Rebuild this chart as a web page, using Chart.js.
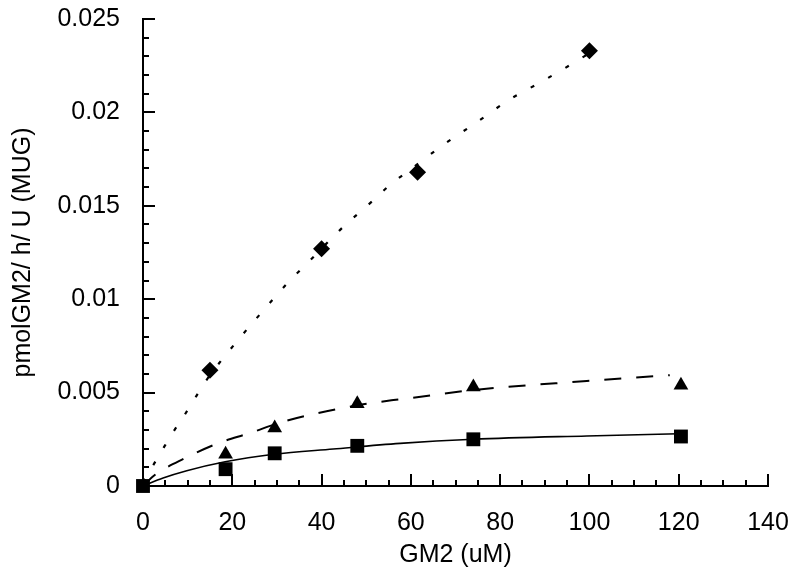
<!DOCTYPE html>
<html>
<head>
<meta charset="utf-8">
<script src="https://cdn.jsdelivr.net/npm/chart.js@4/dist/chart.umd.min.js"></script>
<style>
  html, body { margin: 0; padding: 0; background: #fff; }
  canvas { display: block; }
</style>
</head>
<body>
<canvas id="gm2Chart" width="800" height="576"></canvas>
<script>
/* GM2 hydrolysis vs substrate concentration */

const diamondX = [15, 40, 61.5, 100];
const diamondY = [0.0062, 0.0127, 0.0168, 0.0233];

const triangleX = [18.5, 29.5, 48, 74, 120.5];
const triangleY = [0.0017, 0.0031, 0.0044, 0.0053, 0.0054];

const squareX = [0, 18.5, 29.5, 48, 74, 120.5];
const squareY = [0, 0.0009, 0.00175, 0.00215, 0.0025, 0.00265];

// fitted curves
const dottedX = [0, 2, 4.5, 6.8, 9.3, 11.9, 14.3, 20.2, 26.6, 32.9, 36.7, 44.1, 51.6, 55.7, 59.1, 66.9, 74.6, 82.2, 89.7, 97.5, 99.5];
const dottedY = [0.0002, 0.001, 0.002, 0.0029, 0.0038, 0.0048, 0.0057, 0.0075, 0.0093, 0.011, 0.0119, 0.0137, 0.0153, 0.0162, 0.0168, 0.0182, 0.01945, 0.0207, 0.0217, 0.0228, 0.0231];

const dashedX = [0, 2.7, 9.5, 16.5, 24, 31.4, 47.1, 56.1, 60.5, 74, 99.4, 115.8, 118];
const dashedY = [0, 0.0006, 0.0015, 0.00226, 0.00284, 0.00344, 0.00428, 0.0046, 0.00472, 0.00514, 0.00562, 0.0059, 0.00593];

const solidX = [0, 4.5, 9.8, 18.4, 29.3, 42.6, 57.6, 74, 99.4, 120];
const solidY = [0, 0.00043, 0.00082, 0.0013, 0.0017, 0.00198, 0.00228, 0.0025, 0.00268, 0.0028];

// axis settings
const xTickStep = 20;
const yTickStep = 0.005;

function pts(xs, ys) {
  return xs.map((x, i) => ({ x: x, y: ys[i] }));
}

/* ---------------------------------------------------------
   inward tick marks (major + minor)
   --------------------------------------------------------- */
const inwardTicks = {
  id: "inwardTicks",
  beforeDatasetsDraw(chart) {
    const ctx = chart.ctx;
    const area = chart.chartArea;
    const xs = chart.scales.x;
    const ys = chart.scales.y;
    ctx.save();
    ctx.strokeStyle = "#000";
    ctx.lineWidth = 2;
    ctx.beginPath();
    for (let v = 0; v <= 140; v += 5) {
      const px = Math.round(xs.getPixelForValue(v));
      const len = v % 20 === 0 ? 12 : 6;
      ctx.moveTo(px, area.bottom);
      ctx.lineTo(px, area.bottom - len);
    }
    for (let i = 0; i <= 25; i++) {
      const py = Math.round(ys.getPixelForValue(i / 1000));
      const len = i % 5 === 0 ? 12 : 6;
      ctx.moveTo(area.left, py);
      ctx.lineTo(area.left + len, py);
    }
    ctx.stroke();
    ctx.restore();
  }
};

Chart.defaults.font.family = "'Liberation Sans', Arial, sans-serif";
Chart.defaults.color = "#000";

new Chart(document.getElementById("gm2Chart"), {
  data: {
    datasets: [
      {
        type: "line",
        data: pts(dottedX, dottedY),
        borderColor: "#000",
        borderWidth: 2.2,
        borderDash: [4, 16],
        pointRadius: 0,
        cubicInterpolationMode: "monotone",
        fill: false
      },
      {
        type: "line",
        data: pts(dashedX, dashedY),
        borderColor: "#000",
        borderWidth: 2,
        borderDash: [17, 15],
        pointRadius: 0,
        cubicInterpolationMode: "monotone",
        fill: false
      },
      {
        type: "line",
        data: pts(solidX, solidY),
        borderColor: "#000",
        borderWidth: 1.6,
        pointRadius: 0,
        cubicInterpolationMode: "monotone",
        fill: false
      },
      {
        type: "scatter",
        data: pts(diamondX, diamondY),
        pointStyle: "rectRot",
        pointRadius: 8.5,
        backgroundColor: "#000",
        borderColor: "#000",
        borderWidth: 0,
        clip: false
      },
      {
        type: "scatter",
        data: pts(triangleX, triangleY),
        pointStyle: "triangle",
        pointRadius: 8.5,
        backgroundColor: "#000",
        borderColor: "#000",
        borderWidth: 0,
        clip: false
      },
      {
        type: "scatter",
        data: pts(squareX, squareY),
        pointStyle: "rect",
        pointRadius: 9.8,
        backgroundColor: "#000",
        borderColor: "#000",
        borderWidth: 0,
        clip: false
      }
    ]
  },
  options: {
    responsive: false,
    animation: false,
    layout: { padding: { top: 19, right: 32, left: 0, bottom: 0 } },
    plugins: {
      legend: { display: false },
      tooltip: { enabled: false }
    },
    scales: {
      x: {
        type: "linear",
        min: 0,
        max: 140,
        grid: { display: false, drawTicks: false },
        border: { display: true, color: "#000", width: 2 },
        ticks: { stepSize: xTickStep, padding: 22, font: { size: 25 } },
        title: { display: true, text: "GM2 (uM)", font: { size: 25 }, padding: { top: 6, bottom: 6 } },
        afterFit: s => {
          s.height = 90;
          s.paddingLeft = 0;
          s.paddingRight = 0;
        }
      },
      y: {
        type: "linear",
        min: 0,
        max: 0.025,
        grid: { display: false, drawTicks: false },
        border: { display: true, color: "#000", width: 2 },
        ticks: {
          stepSize: yTickStep,
          padding: 23,
          font: { size: 25 },
          callback: v => String(parseFloat(v.toFixed(3)))
        },
        title: { display: true, text: "pmolGM2/ h/ U (MUG)", font: { size: 25 }, padding: { top: 8, bottom: 8 } },
        afterFit: s => {
          s.width = 143;
          s.paddingTop = 0;
          s.paddingBottom = 0;
        }
      }
    }
  },
  plugins: [inwardTicks]
});
</script>
</body>
</html>
